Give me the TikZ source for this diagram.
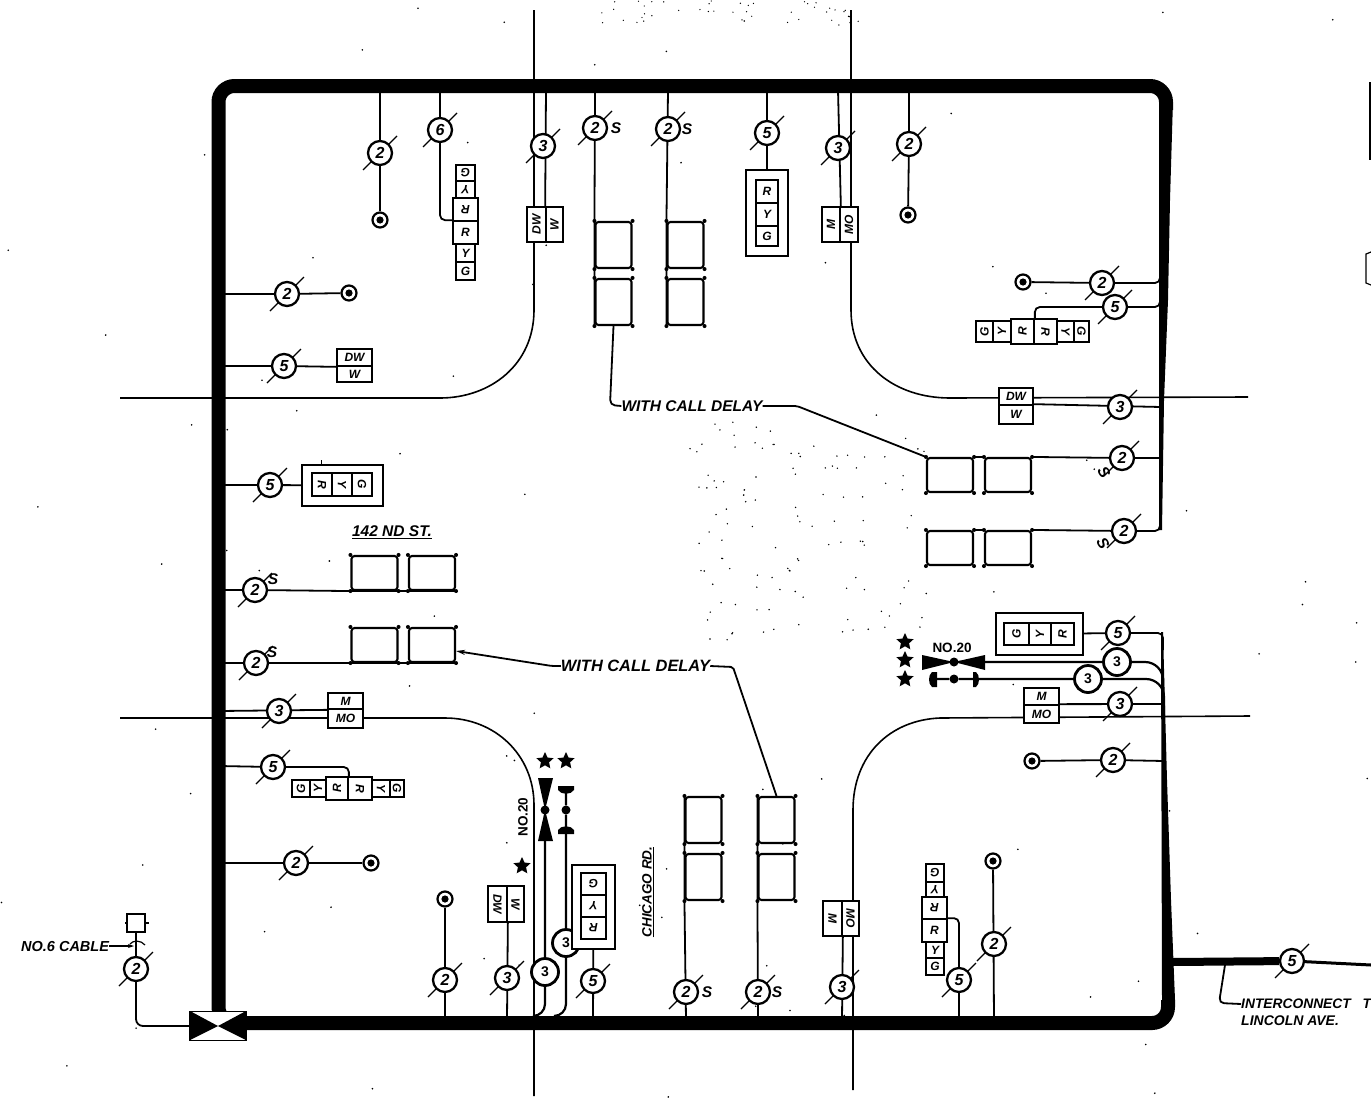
\documentclass[tikz,border=0pt]{standalone}
\usepackage{fontspec}
\setmainfont{Liberation Sans}
\usetikzlibrary{arrows.meta,backgrounds,shapes.geometric}
\tikzset{
  lbl/.style = {inner sep=0, font=\itshape\bfseries\fontsize{15.5}{16}\selectfont},
  wire/.style = {line width=1.8, rounded corners=5},
  street/.style = {line width=1.6},
  lamp/.style = {draw, circle, fill=white, line width=2.2, minimum size=15, inner sep=0,
    path picture={\fill[black] (path picture bounding box.center) circle (3.6);}},
  cnt/.style = {draw, circle, fill=white, line width=2.3, minimum size=24, inner sep=0,
    font=\itshape\bfseries\fontsize{16}{16}\selectfont},
  cntb/.style = {draw, circle, fill=white, line width=2.8, minimum size=27, inner sep=0,
    font=\bfseries\fontsize{14}{14}\selectfont},
  slash/.style = {line width=1.1},
  lens/.style = {draw, rectangle, fill=white, line width=1.7, inner sep=0},
  hood/.style = {draw, rectangle, fill=white, line width=1.8, inner sep=0},
  vehv/.style = {draw, rectangle, fill=white, line width=2.1, rounded corners=3, minimum width=36, minimum height=46, inner sep=0},
  vehh/.style = {draw, rectangle, fill=white, line width=2.1, rounded corners=3, minimum width=46, minimum height=34, inner sep=0},
  dot/.style = {circle, fill=black, minimum size=9, inner sep=0},
  astk/.style = {star, star points=5, star point ratio=2.1, fill=black, minimum size=18, inner sep=0},
}
\newcommand{\cntnode}[4]{
  \node[cnt] (#1) at (#2,#3) {#4};
  \begin{pgfonlayer}{background}
    \draw[slash] ([shift={(-17,17)}]#1.center) -- ([shift={(17,-17)}]#1.center);
  \end{pgfonlayer}
}
\newcommand{\lens}[7]{
  \node[lens, minimum width=#4-#2, minimum height=#5-#3] (#1) at ({(#2+#4)/2},{(#3+#5)/2}) {};
  \node[rotate=#6, inner sep=0, font=\itshape\bfseries\fontsize{12}{12}\selectfont] (#1t) at (#1) {#7};
}
\newcommand{\hood}[5]{
  \node[hood, minimum width=#4-#2, minimum height=#5-#3] (#1) at ({(#2+#4)/2},{(#3+#5)/2}) {};
}
\newcommand{\veh}[4]{
  \node[#4] (#1) at (#2,#3) {};
  \fill (#1.north west) circle (2);
  \fill (#1.north east) circle (2);
  \fill (#1.south west) circle (2);
  \fill (#1.south east) circle (2);
}
\begin{document}
\begin{tikzpicture}[x=1pt,y=-1pt]
  \useasboundingbox (0,0) rectangle (1371,1098);

  % north side
  \cntnode{cn1}{380}{153}{2}
  \node[lamp] (ln1) at (380,220) {};
  \cntnode{cn2}{440}{130}{6}
  \lens{sn1}{456}{165}{475}{181}{180}{G}
  \lens{sn2}{456}{181}{475}{198}{180}{Y}
  \lens{sn3}{453}{198}{478}{221}{180}{R}
  \lens{sn4}{453}{221}{478}{244}{0}{R}
  \lens{sn5}{456}{244}{475}{262}{0}{Y}
  \lens{sn6}{456}{262}{475}{280}{0}{G}
  \cntnode{cn3}{543}{146}{3}
  \lens{wn1}{527}{207}{546}{242}{90}{DW}
  \lens{wn2}{546}{207}{563}{242}{90}{W}
  \cntnode{cn4}{595}{128}{2}
  \node[lbl] (sa) at (616,128) {S};
  \cntnode{cn5}{668}{129}{2}
  \node[lbl] (sb) at (687,129) {S};
  \veh{vn1}{613.5}{245}{vehv}
  \veh{vn2}{613.5}{302}{vehv}
  \veh{vn3}{685.5}{245}{vehv}
  \veh{vn4}{685.5}{302}{vehv}
  \cntnode{cn6}{767}{133}{5}
  \hood{bn1}{746}{170}{788}{256}
  \lens{tn1}{756}{180}{778}{203}{0}{R}
  \lens{tn2}{756}{203}{778}{226}{0}{Y}
  \lens{tn3}{756}{226}{778}{246}{0}{G}
  \cntnode{cn7}{838}{148}{3}
  \lens{mn1}{822}{207}{840}{242}{90}{M}
  \lens{mn2}{840}{207}{858}{242}{90}{MO}
  \cntnode{cn8}{909}{144}{2}
  \node[lamp] (ln2) at (908,215) {};

  % east side
  \node[lamp] (le1) at (1023,282) {};
  \cntnode{ce1}{1102}{283}{2}
  \cntnode{ce2}{1115}{307}{5}
  \lens{se1}{976}{321}{993}{342}{90}{G}
  \lens{se2}{993}{321}{1011}{342}{90}{Y}
  \lens{se3}{1011}{319}{1034}{344}{90}{R}
  \lens{se4}{1034}{319}{1057}{344}{-90}{R}
  \lens{se5}{1057}{321}{1074}{342}{-90}{Y}
  \lens{se6}{1074}{321}{1089}{342}{-90}{G}
  \lens{we1}{999}{388}{1033}{405}{0}{DW}
  \lens{we2}{999}{405}{1033}{424}{0}{W}
  \cntnode{ce3}{1120}{407}{3}
  \veh{ve1}{950}{475}{vehh}
  \veh{ve2}{1008}{475}{vehh}
  \veh{ve3}{950}{548}{vehh}
  \veh{ve4}{1008}{548}{vehh}
  \cntnode{ce4}{1122}{458}{2}
  \node[lbl, rotate=-60] (sc) at (1104,472) {S};
  \cntnode{ce5}{1124}{531}{2}
  \node[lbl, rotate=-60] (sd) at (1103,543) {S};
  \hood{be1}{996}{613}{1083}{655}
  \lens{te1}{1004}{623}{1029}{645}{90}{G}
  \lens{te2}{1029}{623}{1051}{645}{90}{Y}
  \lens{te3}{1051}{623}{1074}{645}{90}{R}
  \cntnode{ce6}{1118}{633}{5}
  \node[cntb] (ce7) at (1117,662) {3};
  \node[cntb] (ce8) at (1088,679) {3};
  \lens{me1}{1024}{688}{1059}{705}{0}{M}
  \lens{me2}{1024}{705}{1059}{723}{0}{MO}
  \cntnode{ce9}{1120}{704}{3}
  \node[lamp] (le2) at (1032,761) {};
  \cntnode{ce10}{1113}{760}{2}
  \node[dot] (be2) at (954,662) {};
  \node[dot] (be3) at (954,679) {};
  \fill (922,655) -- (954,662) -- (922,670) -- cycle;
  \fill (985,655) -- (954,662) -- (985,670) -- cycle;
  \fill (937,672) -- (937,687) -- (932,687) .. controls (928,684) and (928,675) .. (932,672) -- cycle;
  \fill (973,672) -- (973,687) -- (976,687) .. controls (980,684) and (980,675) .. (976,672) -- cycle;
  \node[inner sep=0, font=\bfseries\fontsize{13.5}{14}\selectfont] (no1) at (952,648) {NO.20};
  \node[astk] (ma1) at (905,642) {};
  \node[astk] (ma2) at (905,660) {};
  \node[astk] (ma3) at (905,679) {};

  % west side
  \cntnode{cw1}{287}{294}{2}
  \node[lamp] (lw1) at (349,293) {};
  \cntnode{cw2}{284}{366}{5}
  \lens{ww1}{337}{349}{372}{366}{0}{DW}
  \lens{ww2}{337}{366}{372}{382}{0}{W}
  \cntnode{cw3}{270}{485}{5}
  \hood{bw1}{302}{465}{383}{506}
  \lens{tw1}{312}{473}{332}{496}{-90}{R}
  \lens{tw2}{332}{473}{352}{496}{-90}{Y}
  \lens{tw3}{352}{473}{372}{496}{-90}{G}
  \node[lbl, font=\itshape\bfseries\fontsize{15.5}{16}\selectfont] (st1) at (392,532) {\underline{142 ND ST.}};
  \cntnode{cw4}{255}{590}{2}
  \node[lbl] (se) at (273,579) {S};
  \veh{vw1}{374.5}{573}{vehh}
  \veh{vw2}{432}{573}{vehh}
  \cntnode{cw5}{256}{663}{2}
  \node[lbl] (sf) at (272,652) {S};
  \veh{vw3}{374.5}{645}{vehh}
  \veh{vw4}{432}{645}{vehh}
  \cntnode{cw6}{279}{711}{3}
  \lens{mw1}{328}{693}{363}{709}{0}{M}
  \lens{mw2}{328}{709}{363}{728}{0}{MO}
  \cntnode{cw7}{273}{767}{5}
  \lens{sw1}{292}{780}{310}{797}{90}{G}
  \lens{sw2}{310}{780}{326}{797}{90}{Y}
  \lens{sw3}{326}{777}{348}{800}{90}{R}
  \lens{sw4}{348}{777}{372}{800}{-90}{R}
  \lens{sw5}{372}{780}{390}{797}{-90}{Y}
  \lens{sw6}{390}{780}{404}{797}{-90}{G}
  \cntnode{cw8}{296}{863}{2}
  \node[lamp] (lw2) at (371,863) {};

  % south side
  \node[lamp] (ls1) at (445,899) {};
  \cntnode{cs1}{445}{980}{2}
  \lens{ws1}{488}{886}{507}{922}{-90}{DW}
  \lens{ws2}{507}{886}{524}{922}{-90}{W}
  \cntnode{cs2}{507}{978}{3}
  \node[cntb] (cs3) at (545,972) {3};
  \node[cntb] (cs4) at (566,943) {3};
  \node[dot] (bs2) at (545,810) {};
  \node[dot] (bs3) at (566,810) {};
  \fill (538,778) -- (553,778) -- (545,810) -- cycle;
  \fill (538,841) -- (553,841) -- (545,810) -- cycle;
  \fill (558,786) -- (574,786) -- (574,790) .. controls (571,795) and (561,795) .. (558,790) -- cycle;
  \fill (558,834) -- (574,834) -- (574,830) .. controls (571,825) and (561,825) .. (558,830) -- cycle;
  \node[rotate=90, inner sep=0, font=\bfseries\fontsize{13.5}{14}\selectfont] (no2) at (523,817) {NO.20};
  \node[astk] (ma4) at (545,761) {};
  \node[astk] (ma5) at (566,761) {};
  \node[astk] (ma6) at (522,866) {};
  \hood{bs1}{572}{865}{615}{949}
  \lens{ts1}{581}{873}{606}{895}{180}{G}
  \lens{ts2}{581}{895}{606}{917}{180}{Y}
  \lens{ts3}{581}{917}{606}{939}{180}{R}
  \cntnode{cs5}{593}{981}{5}
  \node[lbl, rotate=90, font=\itshape\bfseries\fontsize{13.5}{14}\selectfont] (st2) at (648,892) {\underline{CHICAGO RD.}};
  \veh{vs1}{703.5}{820}{vehv}
  \veh{vs2}{703.5}{877}{vehv}
  \veh{vs3}{776.5}{820}{vehv}
  \veh{vs4}{776.5}{877}{vehv}
  \cntnode{cs6}{686}{992}{2}
  \node[lbl] (sg) at (707,992) {S};
  \cntnode{cs7}{758}{992}{2}
  \node[lbl] (sh) at (777,992) {S};
  \lens{ms1}{823}{901}{842}{936}{-90}{M}
  \lens{ms2}{842}{901}{859}{936}{-90}{MO}
  \cntnode{cs8}{842}{987}{3}
  \lens{ss1}{926}{864}{944}{882}{180}{G}
  \lens{ss2}{926}{882}{944}{897}{180}{Y}
  \lens{ss3}{922}{897}{947}{919}{180}{R}
  \lens{ss4}{922}{919}{947}{942}{0}{R}
  \lens{ss5}{926}{942}{944}{958}{0}{Y}
  \lens{ss6}{926}{958}{944}{975}{0}{G}
  \cntnode{cs9}{959}{980}{5}
  \node[lamp] (ls2) at (993,861) {};
  \cntnode{cs10}{994}{944}{2}

  % service, interconnect and notes
  \node[draw, fill=white, line width=1.8, minimum width=56, minimum height=29, inner sep=0] (ctl) at (218,1026) {};
  \fill (190,1011) -- (218,1026) -- (190,1040) -- cycle;
  \fill (246,1011) -- (218,1026) -- (246,1040) -- cycle;
  \node[hood, minimum width=18, minimum height=18] (fus) at (136,923) {};
  \cntnode{cc1}{136}{969}{2}
  \node[lbl, anchor=west, font=\itshape\bfseries\fontsize{14.5}{16}\selectfont] (cab) at (21,946) {NO.6 CABLE};
  \cntnode{ci1}{1292}{961}{5}
  \node[lbl, anchor=west, font=\itshape\bfseries\fontsize{13.8}{14}\selectfont] (ic1) at (1241,1004) {INTERCONNECT\hspace{8pt} TO};
  \node[lbl, anchor=west, font=\itshape\bfseries\fontsize{14}{14}\selectfont] (ic2) at (1241,1021) {LINCOLN AVE.};
  \node[lbl] (wc1) at (692,406) {WITH CALL DELAY};
  \node[lbl, font=\itshape\bfseries\fontsize{16.4}{16}\selectfont] (wc2) at (635.5,666) {WITH CALL DELAY};

  \begin{pgfonlayer}{background}
    % streets
    \draw[street] (534,10) -- (534,310) .. controls (534,365) and (490,398) .. (440,398) -- (120,398);
    \draw[street] (851,10) -- (851,310) .. controls (851,365) and (895,398) .. (950,398) -- (1248,397);
    \draw[street] (120,718) -- (445,718) .. controls (495,718) and (534,755) .. (534,805) -- (534,1096);
    \draw[street] (1250,716) -- (940,718) .. controls (890,720) and (853,755) .. (853,810) -- (853,1090);
    % cable loop
    \draw[line width=14, rounded corners=16] (1166,110) -- (1166,86) -- (218.5,86) -- (218.5,1023) -- (1168,1023) -- (1168,1000);
    \fill (1159,100) -- (1173,100) -- (1170,200) -- (1168,300) -- (1164,400) -- (1162,530) -- (1159,530) -- cycle;
    \fill (1161,632) -- (1163,632) -- (1167,780) -- (1171,900) -- (1175,1000) -- (1162,1000) -- cycle;
    \foreach \n/\x/\y in {a/380/90,b/440/90,c/546/90,d/595/90,e/668/90,f/767/90,g/838/90,h/909/90,
      i/1160/270,j/1160/297,k/1161/407,l/1160/458,m/1160/520,n/1163/650,o/1163/695,p/1164/716,
      q/1164/704,r/1164/761,dl/934/679,du/566/790,
      s/219/294,t/219/366,u/219/485,v/219/590,w/219/663,x/219/711,y/219/766,z/219/863,
      aa/445/1020,ab/507/1020,ac/533/1016,ad/555/1016,ae/593/1020,af/686/1020,ag/758/1020,ah/842/1020,ai/959/1020,aj/994/1020}
      {\coordinate (\n) at (\x,\y);}
    % north
    \draw[wire] (a) -- (cn1) -- (ln1);
    \draw[wire] (b) -- (cn2) |- (sn4.north west);
    \draw[wire] (c) -- (wn2.north west);
    \draw[wire] (d) -- (vn1.north west) -- (vn2.south west);
    \draw[wire] (e) -- (vn3.north west) -- (vn4.south west);
    \draw[wire] (f) -- (bn1);
    \draw[wire] (g) -- (mn1.north east);
    \draw[wire] (h) -- (cn8) -- (ln2);
    % east
    \draw[wire] (le1) -- (ce1) -| (i);
    \draw[wire] (se3.north east) |- (ce2) -| (j);
    \draw[wire] (we2.north east) -- (k);
    \draw[wire] (ve1.north east) -- (ve2.north west);
    \draw[wire] (ve2.north east) -- (ce4) -- (l);
    \draw[wire] (ve3.north east) -- (ve4.north west);
    \draw[wire] (ve4.north east) -- (ce5) -| (m);
    \draw[wire] (be1) -- (ce6) -| (n);
    \draw[wire, line width=2.2, rounded corners=18] (be2) -- (ce7) -| (o);
    \draw[wire, line width=2.2, rounded corners=18] (dl) -- (be3) -- (ce8) -| (p);
    \draw[wire] (me2.north east) -- (q);
    \draw[wire] (le2) -- (ce10) -- (r);
    % west
    \draw[wire] (s) -- (cw1) -- (lw1);
    \draw[wire] (t) -- (cw2) -- (ww1.south west);
    \draw[wire] (u) -- (cw3) -- (bw1);
    \draw[wire] (v) -- (cw4) -- (vw1.south west) -- (vw2.south east);
    \draw[wire] (w) -- (cw5) -- (vw3.south west) -- (vw4.south east);
    \draw[wire] (x) -- (mw1.south west);
    \draw[wire] (y) -- (cw7) -| (sw3.north east);
    \draw[wire] (z) -- (cw8) -- (lw2);
    % south
    \draw[wire] (aa) -- (ls1);
    \draw[wire] (ab) -- (ws1.south east);
    \draw[wire, line width=2.2, rounded corners=12] (bs2) -- (cs3) |- (ac);
    \draw[wire, line width=2.2, rounded corners=12] (du) -- (bs3) -- (cs4) |- (ad);
    \draw[wire] (ae) -- (bs1);
    \draw[wire] (af) -- (vs2.south west) -- (vs1.north west);
    \draw[wire] (ag) -- (vs4.south west) -- (vs3.north west);
    \draw[wire] (ah) -- (ms1.south east);
    \draw[wire] (ss4.north east) -| (cs9) -- (ai);
    \draw[wire] (aj) -- (ls2);
    % service and interconnect
    \draw[wire, rounded corners=7] (fus) -- (cc1) |- (ctl);
    \draw[line width=8] (1172,962) -- (ci1);
    \draw[line width=3] (ci1) -- (1371,965);
    \draw[wire] (1225,965) -- (1219,1003) -- (ic1.west);
    % notes
    \draw[wire] (vn2.south) -- (610,405) -- (wc1.west);
    \draw[wire, rounded corners=2] (wc1.east) -- (797,406) -- (ve1.north west);
    \draw[wire, rounded corners=2, -{Stealth[length=9,width=5]}] (wc2.west) -- (552,666) -- ([yshift=-6]vw4.east);
    \draw[wire, rounded corners=2] (wc2.east) -- (733,667) -- (vs3.north);
    \draw[wire, -{Stealth[length=6,width=4]}] (cab.east) -- (134,946);
    \draw[line width=1.2] (130,944) .. controls (133,940) and (141,940) .. (145,945);
    \draw[line width=1.6] (125,923) -- (149,923);
    \draw[line width=1] (321,460) -- (321,473);
    % scan specks
    \pgfmathsetseed{7}
    \foreach \i in {1,...,110}
      {\fill (690+rnd*240,420+rnd*220) circle (0.8);}
    \foreach \i in {1,...,45}
      {\fill (600+rnd*260,rnd*26) circle (0.7);}
    \foreach \i in {1,...,90}
      {\fill (rnd*1371,rnd*1098) circle (0.9);}
  \end{pgfonlayer}
  % pieces cut by the edge
  \fill (1369,82) rectangle (1371,160);
  \draw[line width=1.2] (1371,252) -- (1366,254) -- (1366,283) -- (1371,285);
\end{tikzpicture}
\end{document}
